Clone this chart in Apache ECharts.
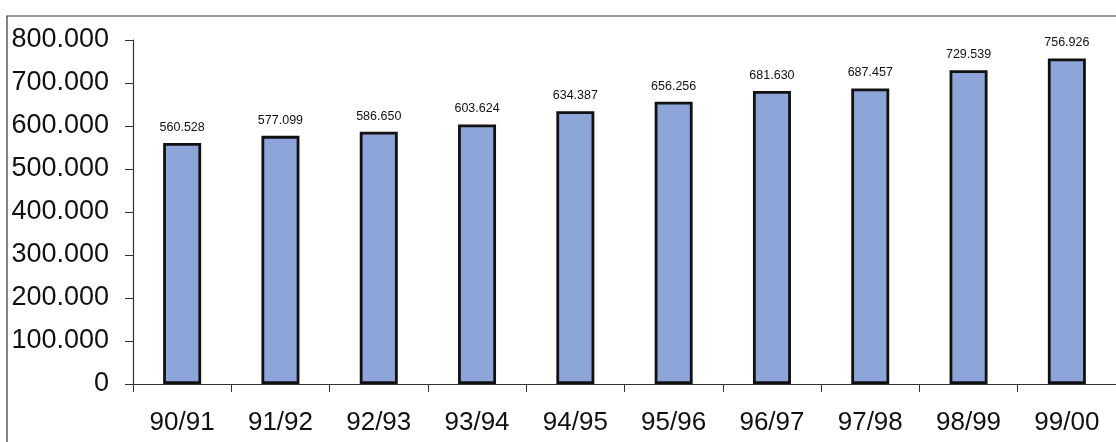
<!DOCTYPE html>
<html><head><meta charset="utf-8">
<script src="https://cdn.jsdelivr.net/npm/echarts@6/dist/echarts.min.js"></script>
<style>html,body{margin:0;padding:0;background:#fff}#c{width:1116px;height:442px}</style>
</head><body><div id="c"></div>
<script>
const categories = ['90/91','91/92','92/93','93/94','94/95','95/96','96/97','97/98','98/99','99/00'];
const values = [560528, 577099, 586650, 603624, 634387, 656256, 681630, 687457, 729539, 756926];
const yTicks = [0, 100000, 200000, 300000, 400000, 500000, 600000, 700000, 800000];

function fmt(v){ return v === 0 ? '0' : String(v).replace(/\B(?=(\d{3})+(?!\d))/g, '.'); }

const chart = echarts.init(document.getElementById('c'), null, {renderer:'canvas'});
chart.setOption({
  animation:false,
  backgroundColor:'#fff',
  graphic:[{type:'rect', shape:{x:7,y:16,width:1200,height:500}, style:{fill:'none',stroke:'#333',lineWidth:1.2}, silent:true}],
  grid:{left:133, top:40, width:997, height:344, containLabel:false},
  xAxis:{type:'category', data:categories, boundaryGap:true,
    axisLine:{lineStyle:{color:'#333',width:1.2}},
    axisTick:{show:true, alignWithLabel:false, length:8, lineStyle:{color:'#333'}},
    axisLabel:{color:'#111', fontFamily:'Liberation Sans, Arial', fontSize:26, margin:26}},
  yAxis:{type:'value', min:0, max:yTicks[yTicks.length-1], interval:yTicks[1]-yTicks[0],
    axisLine:{show:true, lineStyle:{color:'#333',width:1.2}},
    axisTick:{show:true, length:8, lineStyle:{color:'#333'}},
    splitLine:{show:false},
    axisLabel:{color:'#111', fontFamily:'Liberation Sans, Arial', fontSize:27, margin:24, formatter:fmt}},
  series:[{type:'bar', data:values, barWidth:38,
    itemStyle:{color:'#8ea5d9', borderColor:'#111', borderWidth:2.8},
    label:{show:true, position:'top', distance:9, color:'#111', fontFamily:'Liberation Sans, Arial', fontSize:12.5, formatter:p=>fmt(p.value)}}]
});
</script></body></html>
